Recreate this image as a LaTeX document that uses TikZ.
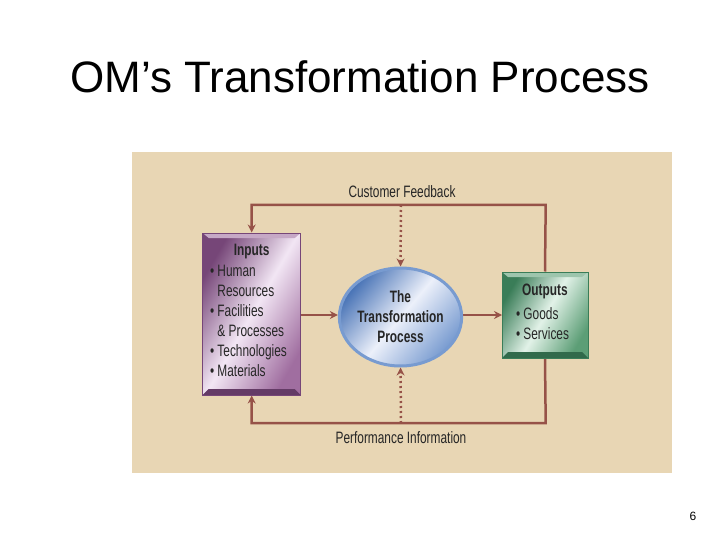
\documentclass[tikz,border=0pt]{standalone}
\usepackage{fontspec}
\setmainfont{Liberation Sans}
\newfontfamily\narrowfont[FakeStretch=0.72]{Liberation Sans}
\usepackage{tikz}
\usetikzlibrary{arrows.meta}
\usetikzlibrary{shapes.geometric}
\pgfdeclarelayer{backlayer}
\pgfdeclarelayer{edgelayer}
\pgfdeclarelayer{nodelayer}
\pgfsetlayers{backlayer,edgelayer,nodelayer,main}
\definecolor{panelbeige}{RGB}{232,214,180}
\definecolor{linebrown}{RGB}{150,82,72}
\definecolor{purpledark}{RGB}{118,70,120}
\definecolor{purplelight}{RGB}{242,230,244}
\definecolor{purplemid}{RGB}{160,110,160}
\definecolor{greendark}{RGB}{58,125,88}
\definecolor{greenlight}{RGB}{226,242,232}
\definecolor{greenmid}{RGB}{92,158,118}
\definecolor{bluedark}{RGB}{72,115,182}
\definecolor{bluemid}{RGB}{120,155,208}
\definecolor{bluelight}{RGB}{236,240,250}
\tikzstyle{none} = [inner sep=0pt, outer sep=0pt]
\tikzstyle{Diagram Text} = [none, font=\narrowfont\fontsize{16.5}{20}\selectfont, text=black!85]
\tikzstyle{Bold Text} = [none, font=\narrowfont\bfseries\fontsize{16.5}{20}\selectfont, text=black!85]
\tikzstyle{Diagram List} = [Diagram Text, align=left, anchor=north west]
\tikzstyle{Purple Box} = [draw=purpledark, line width=1pt, shape=rectangle, left color=purpledark, right color=purplemid, middle color=purplelight, shading angle=60, minimum width=98pt, minimum height=162pt, path picture={\fill[purpledark!85!black] (path picture bounding box.south west) -- ([xshift=6pt,yshift=6pt]path picture bounding box.south west) -- ([xshift=-6pt,yshift=6pt]path picture bounding box.south east) -- (path picture bounding box.south east) -- cycle; \fill[purplemid!60!white] (path picture bounding box.north west) -- ([xshift=6pt,yshift=-5pt]path picture bounding box.north west) -- ([xshift=-6pt,yshift=-5pt]path picture bounding box.north east) -- (path picture bounding box.north east) -- cycle;}]
\tikzstyle{Green Box} = [draw=greendark, line width=1pt, shape=rectangle, left color=greendark, right color=greenmid, middle color=greenlight, shading angle=60, minimum width=86pt, minimum height=86pt, path picture={\fill[greendark!85!black] (path picture bounding box.south west) -- ([xshift=6pt,yshift=6pt]path picture bounding box.south west) -- ([xshift=-6pt,yshift=6pt]path picture bounding box.south east) -- (path picture bounding box.south east) -- cycle; \fill[greenmid!60!white] (path picture bounding box.north west) -- ([xshift=6pt,yshift=-5pt]path picture bounding box.north west) -- ([xshift=-6pt,yshift=-5pt]path picture bounding box.north east) -- (path picture bounding box.north east) -- cycle;}]
\tikzstyle{Blue Ellipse} = [draw=bluemid, line width=3pt, shape=ellipse, left color=bluedark, right color=bluemid, middle color=bluelight, shading angle=50, minimum width=120pt, minimum height=98pt, inner sep=0pt, align=center, font=\narrowfont\bfseries\fontsize{16.5}{20}\selectfont, text=black!85]
\tikzstyle{Flow Arrow} = [-{Stealth[length=8pt,width=8pt]}, draw=linebrown, line width=2.5pt, line join=miter]
\tikzstyle{Dotted Arrow} = [-{Stealth[length=8pt,width=8pt]}, draw=linebrown, line width=2.5pt, dash pattern=on 2pt off 3pt]
\begin{document}
\begin{tikzpicture}[x=1pt, y=-1pt]
	\useasboundingbox (0, 0) rectangle (720, 540);
	\begin{pgfonlayer}{backlayer}
		\fill [white] (0, 0) rectangle (720, 540);
		\fill [panelbeige] (132, 152) rectangle (672, 473);
	\end{pgfonlayer}
	\begin{pgfonlayer}{nodelayer}
		\node [style=none, anchor=base, font=\fontsize{44}{50}\selectfont] (20) at (360, 93) {OM’s Transformation Process};
		\node [style=Purple Box] (0) at (251.7, 314) {};
		\node [style=Bold Text] (1) at (251.7, 252) {Inputs};
		\node [style=Diagram List] (2) at (210, 265) {\textbullet\ Human\\\hphantom{\textbullet\ }Resources\\\textbullet\ Facilities\\\hphantom{\textbullet\ }\& Processes\\\textbullet\ Technologies\\\textbullet\ Materials};
		\node [style=Blue Ellipse] (3) at (400.5, 317) {The\\Transformation\\Process};
		\node [style=Green Box] (4) at (545, 315) {};
		\node [style=Bold Text] (5) at (545, 291) {Outputs};
		\node [style=Diagram List] (6) at (516, 308) {\textbullet\ Goods\\\textbullet\ Services};
		\node [style=Diagram Text] (7) at (402, 192) {Customer Feedback};
		\node [style=Diagram Text] (8) at (401, 438) {Performance Information};
		\node [style=none, font=\fontsize{12}{14}\selectfont] (21) at (693, 516) {6};
		\node [style=none] (10) at (251.7, 205) {};
		\node [style=none] (11) at (545.7, 205) {};
		\node [style=none] (12) at (251.7, 423) {};
		\node [style=none] (13) at (545.7, 423) {};
		\node [style=none] (14) at (401, 205) {};
		\node [style=none] (15) at (401, 423) {};
		\node [style=none] (16) at (300.7, 315) {};
		\node [style=none] (17) at (502, 315) {};
	\end{pgfonlayer}
	\begin{pgfonlayer}{edgelayer}
		\draw [style=Flow Arrow] (4.north) to (11.center) to (10.center) to (0.north);
		\draw [style=Flow Arrow] (4.south) to (13.center) to (12.center) to (0.south);
		\draw [style=Flow Arrow] (16.center) to (3.west |- 16.center);
		\draw [style=Flow Arrow] (3.east |- 17.center) to (17.center);
		\draw [style=Dotted Arrow] (14.center) to (3.north);
		\draw [style=Dotted Arrow] (15.center) to (3.south);
	\end{pgfonlayer}
\end{tikzpicture}
\end{document}
